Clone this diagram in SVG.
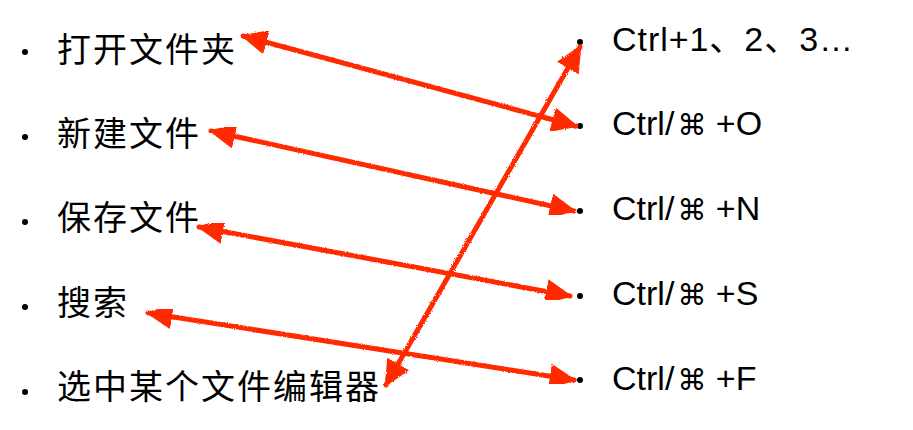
<svg xmlns="http://www.w3.org/2000/svg" width="913" height="430" viewBox="0 0 913 430">
  <style>
    .cn { font-family: "Noto Sans CJK SC", sans-serif; font-size: 34px; letter-spacing: 2px; fill: #000; }
    .en { font-family: "Liberation Sans", "Noto Sans CJK SC", sans-serif; font-size: 34px; fill: #000; }
    .cmd { font-family: "DejaVu Sans", "Noto Sans CJK SC", sans-serif; font-size: 29px; }
    .dot { fill: #000; }
    .arrow { stroke: #ff2a00; stroke-width: 5; fill: none; stroke-linecap: round; marker-start: url(#head); marker-end: url(#head); filter: url(#crayon); }
  </style>
  <defs>
    <marker id="head" viewBox="0 0 10 10" refX="9" refY="5" markerUnits="userSpaceOnUse" markerWidth="27" markerHeight="25" orient="auto-start-reverse" preserveAspectRatio="none">
      <path d="M0,0 L10,5 L0,10 Z" fill="#ff2a00"/>
    </marker>
    <filter id="crayon" x="-5%" y="-5%" width="110%" height="110%">
      <feTurbulence type="fractalNoise" baseFrequency="0.9" numOctaves="2" seed="3" result="n"/>
      <feDisplacementMap in="SourceGraphic" in2="n" scale="2.5"/>
    </filter>
  </defs>

  <g id="left-open-folder">
    <circle class="dot" cx="25" cy="52" r="3"/>
    <text class="cn" x="57" y="62">打开文件夹</text>
  </g>
  <g id="left-new-file">
    <circle class="dot" cx="25" cy="137" r="3"/>
    <text class="cn" x="57" y="146">新建文件</text>
  </g>
  <g id="left-save-file">
    <circle class="dot" cx="25" cy="222" r="3"/>
    <text class="cn" x="57" y="230">保存文件</text>
  </g>
  <g id="left-search">
    <circle class="dot" cx="25" cy="307" r="3"/>
    <text class="cn" x="57" y="315">搜索</text>
  </g>
  <g id="left-select-editor">
    <circle class="dot" cx="25" cy="392" r="3"/>
    <text class="cn" x="57" y="399">选中某个文件编辑器</text>
  </g>

  <g id="right-ctrl-num">
    <circle class="dot" cx="580" cy="42" r="3"/>
    <text class="en" x="612" y="51" textLength="241" lengthAdjust="spacing">Ctrl+1、2、3…</text>
  </g>
  <g id="right-ctrl-o">
    <circle class="dot" cx="580" cy="126" r="3"/>
    <text class="en" x="612" y="135">Ctrl/<tspan class="cmd" dx="3">⌘</tspan> +O</text>
  </g>
  <g id="right-ctrl-n">
    <circle class="dot" cx="580" cy="211" r="3"/>
    <text class="en" x="612" y="220">Ctrl/<tspan class="cmd" dx="3">⌘</tspan> +N</text>
  </g>
  <g id="right-ctrl-s">
    <circle class="dot" cx="580" cy="296" r="3"/>
    <text class="en" x="612" y="305">Ctrl/<tspan class="cmd" dx="3">⌘</tspan> +S</text>
  </g>
  <g id="right-ctrl-f">
    <circle class="dot" cx="580" cy="380" r="3"/>
    <text class="en" x="612" y="390">Ctrl/<tspan class="cmd" dx="3">⌘</tspan> +F</text>
  </g>

  <g id="connectors">
    <line class="arrow" x1="243" y1="36" x2="576" y2="126"/>
    <line class="arrow" x1="211" y1="131" x2="574" y2="211"/>
    <line class="arrow" x1="199" y1="227" x2="570" y2="296"/>
    <line class="arrow" x1="148" y1="313" x2="574" y2="380"/>
    <line class="arrow" x1="386" y1="385" x2="580" y2="47"/>
  </g>
</svg>
